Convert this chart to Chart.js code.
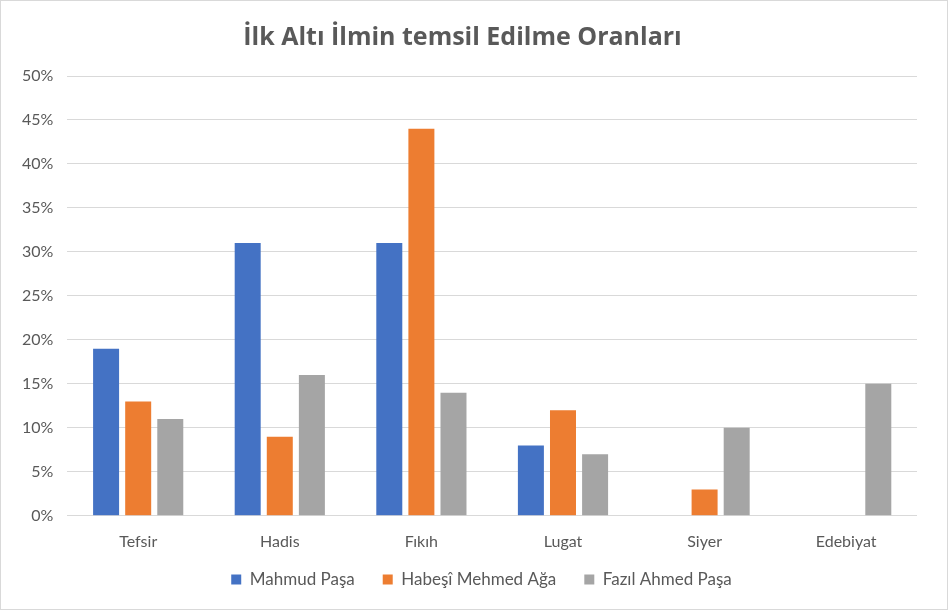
<!DOCTYPE html>
<html lang="tr">
<head>
    <meta charset="UTF-8">
    <title>İlk Altı İlmin temsil Edilme Oranları</title>
    <script src="https://cdn.jsdelivr.net/npm/chart.js"></script>
    <style>
        body { margin: 0; background: #fff; }
        .frame {
            width: 948px; height: 610px;
            box-sizing: border-box;
            border: 1px solid #d9d9d9;
            position: relative;
        }
    </style>
</head>
<body>
    <div class="frame">
        <canvas id="oranChart"></canvas>
    </div>
    <script>
        const categories = ['Tefsir', 'Hadis', 'Fıkıh', 'Lugat', 'Siyer', 'Edebiyat'];
        const mahmudPasa = [19, 31, 31, 8, 0, 0];
        const habesiMehmedAga = [13, 9, 44, 12, 3, 0];
        const fazilAhmedPasa = [11, 16, 14, 7, 10, 15];
        const yTicks = [0, 5, 10, 15, 20, 25, 30, 35, 40, 45, 50];

        const textColor = '#595959';
        const font = "Lato, 'Open Sans', sans-serif";

        // legend needs wide gaps between items but sits close to the axis labels
        const legendLift = {
            id: 'legendLift',
            afterLayout(chart) {
                const lg = chart.legend;
                lg.top -= 16;
                lg.bottom -= 16;
                lg.left += 19;
                lg.right += 19;
            }
        };

        new Chart(document.getElementById('oranChart'), {
            type: 'bar',
            data: {
                labels: categories,
                datasets: [
                    { label: 'Mahmud Paşa', data: mahmudPasa, backgroundColor: '#4472c4' },
                    { label: 'Habeşî Mehmed Ağa', data: habesiMehmedAga, backgroundColor: '#ed7d31' },
                    { label: 'Fazıl Ahmed Paşa', data: fazilAhmedPasa, backgroundColor: '#a5a5a5' }
                ]
            },
            options: {
                responsive: true,
                maintainAspectRatio: false,
                animation: false,
                datasets: { bar: { categoryPercentage: 0.68, barPercentage: 0.81 } },
                layout: { padding: { left: 7, right: 30, top: 8, bottom: 4 } },
                plugins: {
                    title: {
                        display: true,
                        text: 'İlk Altı İlmin temsil Edilme Oranları',
                        color: textColor,
                        font: { family: "'Open Sans', sans-serif", size: 25, weight: 'bold' },
                        padding: { top: 14, bottom: 23 }
                    },
                    legend: {
                        position: 'bottom',
                        maxHeight: 46,
                        labels: {
                            color: textColor,
                            font: { family: font, size: 17 },
                            boxWidth: 10,
                            boxHeight: 10,
                            padding: 28
                        }
                    },
                    tooltip: { enabled: false }
                },
                scales: {
                    x: {
                        grid: { display: false },
                        border: { display: false },
                        ticks: { color: textColor, font: { family: font, size: 16 }, padding: 8 }
                    },
                    y: {
                        min: 0,
                        max: 50,
                        afterBuildTicks: axis => { axis.ticks = yTicks.map(v => ({ value: v })); },
                        grid: { color: '#d9d9d9', drawTicks: false },
                        border: { display: false },
                        ticks: {
                            color: textColor,
                            font: { family: font, size: 16 },
                            padding: 14,
                            callback: v => v + '%'
                        }
                    }
                }
            },
            plugins: [legendLift]
        });
    </script>
</body>
</html>
